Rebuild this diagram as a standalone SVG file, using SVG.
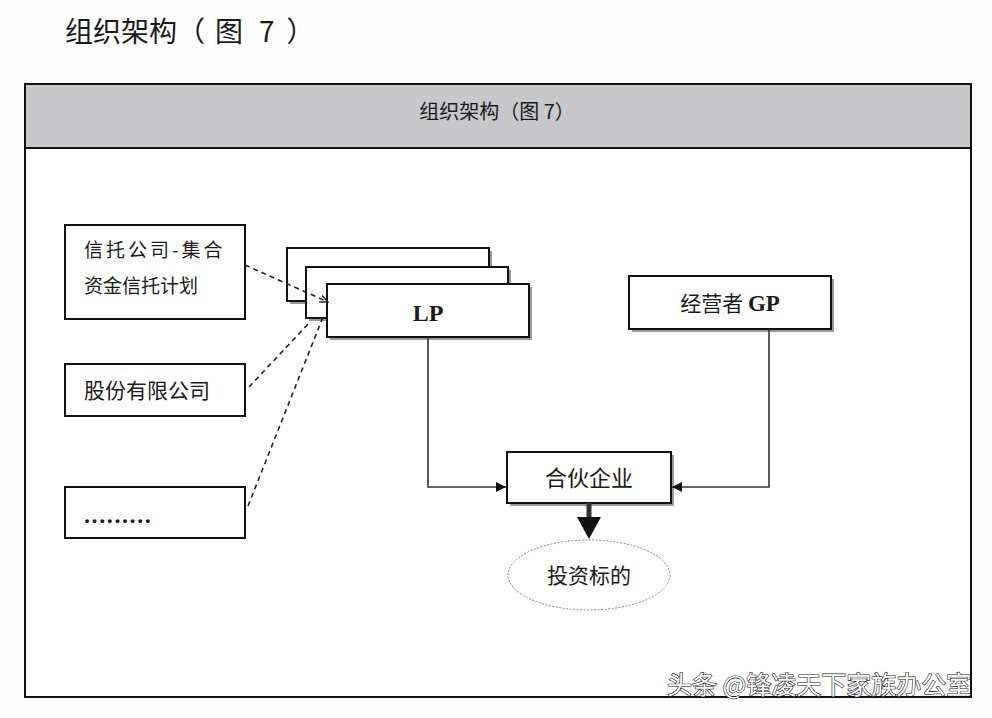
<svg xmlns="http://www.w3.org/2000/svg" width="992" height="718" viewBox="0 0 992 718">
  <style>
    .box { fill: #ffffff; stroke: #111111; stroke-width: 2; }
    .shadow { fill: #9a9a9a; }
    .cjk { font-family: "Noto Sans CJK SC", "Liberation Serif", serif; fill: #1a1a1a; }
    .serif { font-family: "Liberation Serif", "Noto Sans CJK SC", serif; fill: #1a1a1a; }
    .link { fill: none; stroke: #333333; stroke-width: 1.6; }
    .dash { fill: none; stroke: #222222; stroke-width: 1.6; stroke-dasharray: 5 4; }
  </style>
  <defs>
    <marker id="tri" viewBox="0 0 10 10" refX="10" refY="5" markerWidth="10" markerHeight="10" markerUnits="userSpaceOnUse" orient="auto">
      <path d="M0,0 L10,5 L0,10 z" fill="#111111"/>
    </marker>
    <marker id="open" viewBox="0 0 10 10" refX="9" refY="5" markerWidth="9" markerHeight="9" markerUnits="userSpaceOnUse" orient="auto">
      <path d="M0,1 L9,5 L0,9" fill="none" stroke="#222222" stroke-width="1.6"/>
    </marker>
  </defs>

  <rect width="992" height="718" fill="#fdfdfd"/>

  <!-- page heading -->
  <text x="65" y="42" class="cjk" font-size="28" fill="#111111"><tspan>组织架构（</tspan><tspan dx="10">图</tspan><tspan dx="16">7</tspan><tspan dx="12">）</tspan></text>

  <!-- frame with grey header band -->
  <g id="frame">
    <rect x="25" y="84" width="946" height="613" fill="#ffffff" stroke="#111111" stroke-width="2"/>
    <rect x="25" y="84" width="946" height="64" fill="#c8c8ca" stroke="#111111" stroke-width="2"/>
    <text x="497" y="119" class="cjk" font-size="20" text-anchor="middle">组织架构（图 7）</text>
  </g>

  <g id="trust-plan">
    <rect x="65" y="225" width="180" height="94" class="box"/>
    <text x="84" y="257" class="cjk" font-size="19" letter-spacing="3">信托公司-集合</text>
    <text x="84" y="293" class="cjk" font-size="19">资金信托计划</text>
  </g>

  <g id="joint-stock">
    <rect x="65" y="364" width="180" height="52" class="box"/>
    <text x="84" y="398" class="cjk" font-size="21">股份有限公司</text>
  </g>

  <g id="others">
    <rect x="65" y="487" width="180" height="51" class="box"/>
    <text x="84" y="523" class="serif" font-size="24" font-weight="bold" letter-spacing="1.6">.........</text>
  </g>

  <g id="lp">
    <rect x="290" y="251" width="202" height="53" class="shadow"/>
    <rect x="287" y="248" width="202" height="53" class="box"/>
    <rect x="309" y="270" width="202" height="51" class="shadow"/>
    <rect x="306" y="267" width="202" height="51" class="box"/>
    <rect x="330" y="287" width="202" height="53" class="shadow"/>
    <rect x="327" y="284" width="202" height="53" class="box"/>
    <text x="428" y="321" class="serif" font-size="24" font-weight="bold" text-anchor="middle">LP</text>
  </g>

  <g id="gp">
    <rect x="632" y="279" width="202" height="53" class="shadow"/>
    <rect x="629" y="276" width="202" height="53" class="box"/>
    <text x="730" y="311" class="cjk" font-size="21" text-anchor="middle">经营者 <tspan class="serif" font-size="23" font-weight="bold">GP</tspan></text>
  </g>

  <g id="partnership">
    <rect x="510" y="455" width="164" height="51" class="shadow"/>
    <rect x="507" y="452" width="164" height="51" class="box"/>
    <text x="589" y="486" class="cjk" font-size="22" text-anchor="middle">合伙企业</text>
  </g>

  <g id="target">
    <ellipse cx="589" cy="575" rx="81" ry="35" fill="#ffffff" stroke="#8a7f84" stroke-width="1" stroke-dasharray="2 1.5"/>
    <text x="589" y="583" class="cjk" font-size="21" text-anchor="middle">投资标的</text>
  </g>

  <g id="connectors">
    <path d="M245,265 L328,302" class="dash" marker-end="url(#open)"/>
    <path d="M249,387 L309,323" class="dash"/>
    <path d="M248,506 L323,317" class="dash"/>
    <path d="M428,337 V487 H506" class="link" marker-end="url(#tri)"/>
    <path d="M769,329 V487 H672" class="link" marker-end="url(#tri)"/>
    <path d="M589,503 V520" stroke="#333333" stroke-width="5" fill="none"/>
    <path d="M577,517 L601,517 L589,539 z" fill="#111111"/>
  </g>

  <!-- watermark -->
  <text x="667" y="694" font-family="Noto Sans CJK SC, sans-serif" font-size="25" fill="#ffffff" stroke="#111111" stroke-width="1.2" paint-order="stroke">头条 @锋凌天下家族办公室</text>
</svg>
